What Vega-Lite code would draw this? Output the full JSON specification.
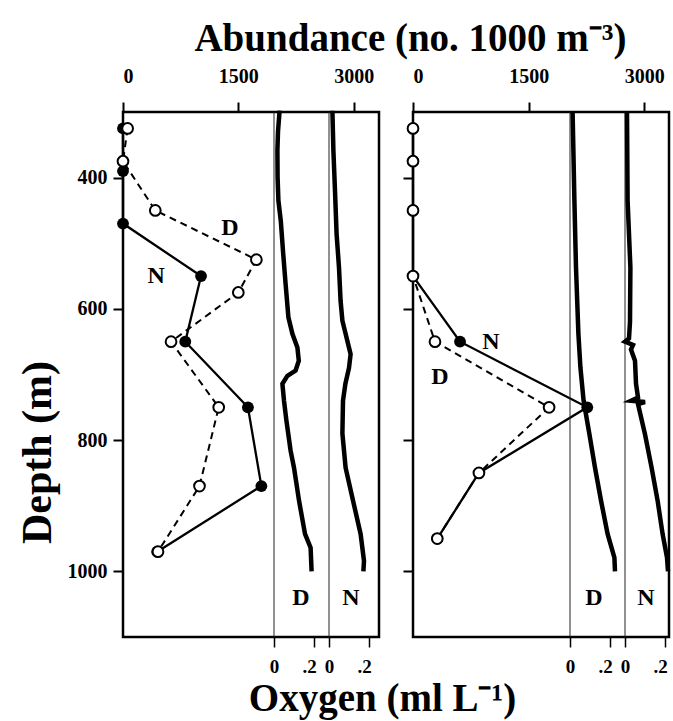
{
  "$schema": "https://vega.github.io/schema/vega-lite/v6.json",
  "background": "white",
  "padding": {"left": 14, "top": 19, "right": 2, "bottom": 5},
  "title": {"text": "Abundance (no. 1000 m⁻³)", "anchor": "middle", "dx": 64, "offset": 6, "fontSize": 39},
  "datasets": {
    "abund": [
      {"panel": "L", "time": "D", "depth": 325, "abundance": 60},
      {"panel": "L", "time": "D", "depth": 375, "abundance": 0},
      {"panel": "L", "time": "D", "depth": 450, "abundance": 420},
      {"panel": "L", "time": "D", "depth": 525, "abundance": 1735},
      {"panel": "L", "time": "D", "depth": 575, "abundance": 1500},
      {"panel": "L", "time": "D", "depth": 650, "abundance": 625},
      {"panel": "L", "time": "D", "depth": 750, "abundance": 1245},
      {"panel": "L", "time": "D", "depth": 870, "abundance": 995},
      {"panel": "L", "time": "D", "depth": 970, "abundance": 455},
      {"panel": "L", "time": "N", "depth": 325, "abundance": 0},
      {"panel": "L", "time": "N", "depth": 390, "abundance": 0},
      {"panel": "L", "time": "N", "depth": 470, "abundance": 0},
      {"panel": "L", "time": "N", "depth": 550, "abundance": 1015},
      {"panel": "L", "time": "N", "depth": 650, "abundance": 810},
      {"panel": "L", "time": "N", "depth": 750, "abundance": 1625},
      {"panel": "L", "time": "N", "depth": 870, "abundance": 1800},
      {"panel": "L", "time": "N", "depth": 970, "abundance": 445},
      {"panel": "R", "time": "D", "depth": 325, "abundance": 0},
      {"panel": "R", "time": "D", "depth": 375, "abundance": 0},
      {"panel": "R", "time": "D", "depth": 450, "abundance": 0},
      {"panel": "R", "time": "D", "depth": 550, "abundance": 0},
      {"panel": "R", "time": "D", "depth": 650, "abundance": 285},
      {"panel": "R", "time": "D", "depth": 750, "abundance": 1765},
      {"panel": "R", "time": "D", "depth": 850, "abundance": 855},
      {"panel": "R", "time": "D", "depth": 950, "abundance": 315},
      {"panel": "R", "time": "N", "depth": 325, "abundance": 0},
      {"panel": "R", "time": "N", "depth": 375, "abundance": 0},
      {"panel": "R", "time": "N", "depth": 450, "abundance": 0},
      {"panel": "R", "time": "N", "depth": 550, "abundance": 0},
      {"panel": "R", "time": "N", "depth": 650, "abundance": 610},
      {"panel": "R", "time": "N", "depth": 750, "abundance": 2260},
      {"panel": "R", "time": "N", "depth": 850, "abundance": 855},
      {"panel": "R", "time": "N", "depth": 950, "abundance": 315}
    ],
    "oxy": [
      {"panel": "L", "time": "D", "depth": 298, "oxygen": 0.028},
      {"panel": "L", "time": "D", "depth": 330, "oxygen": 0.02},
      {"panel": "L", "time": "D", "depth": 359, "oxygen": 0.017},
      {"panel": "L", "time": "D", "depth": 400, "oxygen": 0.018},
      {"panel": "L", "time": "D", "depth": 435, "oxygen": 0.022},
      {"panel": "L", "time": "D", "depth": 466, "oxygen": 0.034},
      {"panel": "L", "time": "D", "depth": 512, "oxygen": 0.045},
      {"panel": "L", "time": "D", "depth": 562, "oxygen": 0.058},
      {"panel": "L", "time": "D", "depth": 613, "oxygen": 0.072},
      {"panel": "L", "time": "D", "depth": 638, "oxygen": 0.092},
      {"panel": "L", "time": "D", "depth": 659, "oxygen": 0.117},
      {"panel": "L", "time": "D", "depth": 679, "oxygen": 0.124},
      {"panel": "L", "time": "D", "depth": 694, "oxygen": 0.108},
      {"panel": "L", "time": "D", "depth": 702, "oxygen": 0.067},
      {"panel": "L", "time": "D", "depth": 714, "oxygen": 0.042},
      {"panel": "L", "time": "D", "depth": 740, "oxygen": 0.05},
      {"panel": "L", "time": "D", "depth": 770, "oxygen": 0.062},
      {"panel": "L", "time": "D", "depth": 816, "oxygen": 0.083},
      {"panel": "L", "time": "D", "depth": 842, "oxygen": 0.1},
      {"panel": "L", "time": "D", "depth": 892, "oxygen": 0.125},
      {"panel": "L", "time": "D", "depth": 943, "oxygen": 0.155},
      {"panel": "L", "time": "D", "depth": 964, "oxygen": 0.183},
      {"panel": "L", "time": "D", "depth": 1000, "oxygen": 0.188},
      {"panel": "L", "time": "N", "depth": 298, "oxygen": 0.017},
      {"panel": "L", "time": "N", "depth": 359, "oxygen": 0.022},
      {"panel": "L", "time": "N", "depth": 420, "oxygen": 0.03},
      {"panel": "L", "time": "N", "depth": 486, "oxygen": 0.038},
      {"panel": "L", "time": "N", "depth": 537, "oxygen": 0.05},
      {"panel": "L", "time": "N", "depth": 588, "oxygen": 0.058},
      {"panel": "L", "time": "N", "depth": 618, "oxygen": 0.067},
      {"panel": "L", "time": "N", "depth": 638, "oxygen": 0.083},
      {"panel": "L", "time": "N", "depth": 669, "oxygen": 0.108},
      {"panel": "L", "time": "N", "depth": 690, "oxygen": 0.1},
      {"panel": "L", "time": "N", "depth": 714, "oxygen": 0.082},
      {"panel": "L", "time": "N", "depth": 740, "oxygen": 0.07},
      {"panel": "L", "time": "N", "depth": 790, "oxygen": 0.067},
      {"panel": "L", "time": "N", "depth": 842, "oxygen": 0.083},
      {"panel": "L", "time": "N", "depth": 892, "oxygen": 0.12},
      {"panel": "L", "time": "N", "depth": 943, "oxygen": 0.158},
      {"panel": "L", "time": "N", "depth": 984, "oxygen": 0.175},
      {"panel": "L", "time": "N", "depth": 1000, "oxygen": 0.172},
      {"panel": "R", "time": "D", "depth": 300, "oxygen": 0.013},
      {"panel": "R", "time": "D", "depth": 435, "oxygen": 0.022},
      {"panel": "R", "time": "D", "depth": 537, "oxygen": 0.03},
      {"panel": "R", "time": "D", "depth": 638, "oxygen": 0.042},
      {"panel": "R", "time": "D", "depth": 689, "oxygen": 0.052},
      {"panel": "R", "time": "D", "depth": 740, "oxygen": 0.068},
      {"panel": "R", "time": "D", "depth": 791, "oxygen": 0.097},
      {"panel": "R", "time": "D", "depth": 842, "oxygen": 0.125},
      {"panel": "R", "time": "D", "depth": 892, "oxygen": 0.155},
      {"panel": "R", "time": "D", "depth": 943, "oxygen": 0.188},
      {"panel": "R", "time": "D", "depth": 979, "oxygen": 0.222},
      {"panel": "R", "time": "D", "depth": 1000, "oxygen": 0.225},
      {"panel": "R", "time": "N", "depth": 300, "oxygen": 0.01},
      {"panel": "R", "time": "N", "depth": 435, "oxygen": 0.013},
      {"panel": "R", "time": "N", "depth": 537, "oxygen": 0.027},
      {"panel": "R", "time": "N", "depth": 620, "oxygen": 0.025},
      {"panel": "R", "time": "N", "depth": 645, "oxygen": 0.02},
      {"panel": "R", "time": "N", "depth": 650, "oxygen": 0.0},
      {"panel": "R", "time": "N", "depth": 655, "oxygen": 0.04},
      {"panel": "R", "time": "N", "depth": 662, "oxygen": 0.03},
      {"panel": "R", "time": "N", "depth": 679, "oxygen": 0.05},
      {"panel": "R", "time": "N", "depth": 714, "oxygen": 0.055},
      {"panel": "R", "time": "N", "depth": 735, "oxygen": 0.065},
      {"panel": "R", "time": "N", "depth": 740, "oxygen": 0.03},
      {"panel": "R", "time": "N", "depth": 742, "oxygen": 0.1},
      {"panel": "R", "time": "N", "depth": 745, "oxygen": 0.065},
      {"panel": "R", "time": "N", "depth": 791, "oxygen": 0.1},
      {"panel": "R", "time": "N", "depth": 842, "oxygen": 0.133},
      {"panel": "R", "time": "N", "depth": 892, "oxygen": 0.163},
      {"panel": "R", "time": "N", "depth": 943, "oxygen": 0.188},
      {"panel": "R", "time": "N", "depth": 979, "oxygen": 0.21},
      {"panel": "R", "time": "N", "depth": 1000, "oxygen": 0.215}
    ],
    "zero": [{"oxygen": 0}],
    "labels": [
      {"panel": "L", "sub": "A", "label": "D", "abundance": 1390, "depth": 476},
      {"panel": "L", "sub": "A", "label": "N", "abundance": 430, "depth": 550},
      {"panel": "R", "sub": "A", "label": "N", "abundance": 1010, "depth": 650},
      {"panel": "R", "sub": "A", "label": "D", "abundance": 350, "depth": 704},
      {"panel": "L", "sub": "D", "label": "D", "oxygen": 0.135, "depth": 1040},
      {"panel": "L", "sub": "N", "label": "N", "oxygen": 0.11, "depth": 1040},
      {"panel": "R", "sub": "D", "label": "D", "oxygen": 0.12, "depth": 1040},
      {"panel": "R", "sub": "N", "label": "N", "oxygen": 0.105, "depth": 1040}
    ]
  },
  "vconcat": [
    {
      "title": {"text": "Oxygen (ml L⁻¹)", "orient": "bottom", "anchor": "middle", "dx": 36, "offset": 3, "fontSize": 39},
      "spacing": 19,
      "hconcat": [
        {
          "width": 256,
          "height": 525,
          "resolve": {"scale": {"x": "independent"}, "axis": {"x": "independent"}},
          "layer": [
            {
              "encoding": {
                "x": {"field": "abundance", "type": "quantitative", "scale": {"domain": [0, 3330], "nice": false, "zero": false}, "axis": {"orient": "top", "values": [0, 1500, 3000], "format": "d", "title": null, "labelPadding": 16}},
                "y": {"field": "depth", "type": "quantitative", "scale": {"domain": [300, 1100], "reverse": true, "nice": false, "zero": false}, "axis": {"values": [400, 600, 800, 1000], "format": "d", "title": "Depth (m)", "titleX": -86, "titleY": 340, "titleAngle": -90, "titleAlign": "center", "titleBaseline": "middle", "titleFontSize": 42, "labelPadding": 6}}
              },
              "layer": [
                {"data": {"name": "abund"}, "transform": [{"filter": "datum.panel == 'L' && datum.time == 'N'"}], "mark": {"type": "line", "color": "black", "strokeWidth": 2.3}, "encoding": {"order": {"field": "depth", "type": "quantitative"}}},
                {"data": {"name": "abund"}, "transform": [{"filter": "datum.panel == 'L' && datum.time == 'D'"}], "mark": {"type": "line", "color": "black", "strokeWidth": 2, "strokeDash": [7, 5]}, "encoding": {"order": {"field": "depth", "type": "quantitative"}}},
                {"data": {"name": "abund"}, "transform": [{"filter": "datum.panel == 'L' && datum.time == 'N'"}], "mark": {"type": "point", "shape": "circle", "filled": true, "color": "black", "size": 140, "opacity": 1}},
                {"data": {"name": "abund"}, "transform": [{"filter": "datum.panel == 'L' && datum.time == 'D'"}], "mark": {"type": "point", "shape": "circle", "fill": "white", "stroke": "black", "strokeWidth": 2, "size": 115, "opacity": 1, "fillOpacity": 1}},
                {"data": {"name": "labels"}, "transform": [{"filter": "datum.panel == 'L' && datum.sub == 'A'"}], "mark": {"type": "text", "fontSize": 24, "fontWeight": "bold", "font": "Liberation Serif", "color": "black"}, "encoding": {"text": {"field": "label"}}}
              ]
            },
            {
              "encoding": {
                "x": {"field": "oxygen", "type": "quantitative", "scale": {"domain": [-0.755, 0.525], "nice": false, "zero": false}, "axis": {"orient": "bottom", "values": [0, 0.2], "labelExpr": "datum.value == 0 ? '0' : '.2'", "labelOffset": {"expr": "datum.value > 0 ? -5 : 0"}, "labelFontSize": 19, "title": null, "tickWidth": 1.5, "labelPadding": 10}},
                "y": {"field": "depth", "type": "quantitative", "scale": {"domain": [300, 1100], "reverse": true, "nice": false, "zero": false}, "axis": {"values": [400, 600, 800, 1000], "format": "d", "title": "Depth (m)", "titleX": -86, "titleY": 340, "titleAngle": -90, "titleAlign": "center", "titleBaseline": "middle", "titleFontSize": 42, "labelPadding": 6}}
              },
              "layer": [
                {"data": {"name": "zero"}, "mark": {"type": "rule", "color": "#222", "strokeWidth": 1}, "encoding": {"y": null}},
                {"data": {"name": "oxy"}, "transform": [{"filter": "datum.panel == 'L' && datum.time == 'D'"}], "mark": {"type": "line", "color": "black", "strokeWidth": 4.5}, "encoding": {"order": {"field": "depth", "type": "quantitative"}}},
                {"data": {"name": "labels"}, "transform": [{"filter": "datum.panel == 'L' && datum.sub == 'D'"}], "mark": {"type": "text", "fontSize": 24, "fontWeight": "bold", "font": "Liberation Serif", "color": "black"}, "encoding": {"text": {"field": "label"}}}
              ]
            },
            {
              "encoding": {
                "x": {"field": "oxygen", "type": "quantitative", "scale": {"domain": [-1.03, 0.25], "nice": false, "zero": false}, "axis": {"orient": "bottom", "values": [0, 0.2], "labelExpr": "datum.value == 0 ? '0' : '.2'", "labelOffset": {"expr": "datum.value > 0 ? -5 : 0"}, "labelFontSize": 19, "title": null, "tickWidth": 1.5, "labelPadding": 10}},
                "y": {"field": "depth", "type": "quantitative", "scale": {"domain": [300, 1100], "reverse": true, "nice": false, "zero": false}, "axis": {"values": [400, 600, 800, 1000], "format": "d", "title": "Depth (m)", "titleX": -86, "titleY": 340, "titleAngle": -90, "titleAlign": "center", "titleBaseline": "middle", "titleFontSize": 42, "labelPadding": 6}}
              },
              "layer": [
                {"data": {"name": "zero"}, "mark": {"type": "rule", "color": "#222", "strokeWidth": 1}, "encoding": {"y": null}},
                {"data": {"name": "oxy"}, "transform": [{"filter": "datum.panel == 'L' && datum.time == 'N'"}], "mark": {"type": "line", "color": "black", "strokeWidth": 4.5}, "encoding": {"order": {"field": "depth", "type": "quantitative"}}},
                {"data": {"name": "labels"}, "transform": [{"filter": "datum.panel == 'L' && datum.sub == 'N'"}], "mark": {"type": "text", "fontSize": 24, "fontWeight": "bold", "font": "Liberation Serif", "color": "black"}, "encoding": {"text": {"field": "label"}}}
              ]
            }
          ]
        },
        {
          "width": 256,
          "height": 525,
          "resolve": {"scale": {"x": "independent"}, "axis": {"x": "independent"}},
          "layer": [
            {
              "encoding": {
                "x": {"field": "abundance", "type": "quantitative", "scale": {"domain": [0, 3320], "nice": false, "zero": false}, "axis": {"orient": "top", "values": [0, 1500, 3000], "format": "d", "title": null, "labelPadding": 16}},
                "y": {"field": "depth", "type": "quantitative", "scale": {"domain": [300, 1100], "reverse": true, "nice": false, "zero": false}, "axis": {"values": [400, 600, 800, 1000], "title": null, "labels": false}}
              },
              "layer": [
                {"data": {"name": "abund"}, "transform": [{"filter": "datum.panel == 'R' && datum.time == 'N'"}], "mark": {"type": "line", "color": "black", "strokeWidth": 2.3}, "encoding": {"order": {"field": "depth", "type": "quantitative"}}},
                {"data": {"name": "abund"}, "transform": [{"filter": "datum.panel == 'R' && datum.time == 'D'"}], "mark": {"type": "line", "color": "black", "strokeWidth": 2, "strokeDash": [7, 5]}, "encoding": {"order": {"field": "depth", "type": "quantitative"}}},
                {"data": {"name": "abund"}, "transform": [{"filter": "datum.panel == 'R' && datum.time == 'N'"}], "mark": {"type": "point", "shape": "circle", "filled": true, "color": "black", "size": 140, "opacity": 1}},
                {"data": {"name": "abund"}, "transform": [{"filter": "datum.panel == 'R' && datum.time == 'D'"}], "mark": {"type": "point", "shape": "circle", "fill": "white", "stroke": "black", "strokeWidth": 2, "size": 115, "opacity": 1, "fillOpacity": 1}},
                {"data": {"name": "labels"}, "transform": [{"filter": "datum.panel == 'R' && datum.sub == 'A'"}], "mark": {"type": "text", "fontSize": 24, "fontWeight": "bold", "font": "Liberation Serif", "color": "black"}, "encoding": {"text": {"field": "label"}}}
              ]
            },
            {
              "encoding": {
                "x": {"field": "oxygen", "type": "quantitative", "scale": {"domain": [-0.785, 0.495], "nice": false, "zero": false}, "axis": {"orient": "bottom", "values": [0, 0.2], "labelExpr": "datum.value == 0 ? '0' : '.2'", "labelOffset": {"expr": "datum.value > 0 ? -5 : 0"}, "labelFontSize": 19, "title": null, "tickWidth": 1.5, "labelPadding": 10}},
                "y": {"field": "depth", "type": "quantitative", "scale": {"domain": [300, 1100], "reverse": true, "nice": false, "zero": false}, "axis": {"values": [400, 600, 800, 1000], "title": null, "labels": false}}
              },
              "layer": [
                {"data": {"name": "zero"}, "mark": {"type": "rule", "color": "#222", "strokeWidth": 1}, "encoding": {"y": null}},
                {"data": {"name": "oxy"}, "transform": [{"filter": "datum.panel == 'R' && datum.time == 'D'"}], "mark": {"type": "line", "color": "black", "strokeWidth": 4.5}, "encoding": {"order": {"field": "depth", "type": "quantitative"}}},
                {"data": {"name": "labels"}, "transform": [{"filter": "datum.panel == 'R' && datum.sub == 'D'"}], "mark": {"type": "text", "fontSize": 24, "fontWeight": "bold", "font": "Liberation Serif", "color": "black"}, "encoding": {"text": {"field": "label"}}}
              ]
            },
            {
              "encoding": {
                "x": {"field": "oxygen", "type": "quantitative", "scale": {"domain": [-1.06, 0.22], "nice": false, "zero": false}, "axis": {"orient": "bottom", "values": [0, 0.2], "labelExpr": "datum.value == 0 ? '0' : '.2'", "labelOffset": {"expr": "datum.value > 0 ? -5 : 0"}, "labelFontSize": 19, "title": null, "tickWidth": 1.5, "labelPadding": 10}},
                "y": {"field": "depth", "type": "quantitative", "scale": {"domain": [300, 1100], "reverse": true, "nice": false, "zero": false}, "axis": {"values": [400, 600, 800, 1000], "title": null, "labels": false}}
              },
              "layer": [
                {"data": {"name": "zero"}, "mark": {"type": "rule", "color": "#222", "strokeWidth": 1}, "encoding": {"y": null}},
                {"data": {"name": "oxy"}, "transform": [{"filter": "datum.panel == 'R' && datum.time == 'N'"}], "mark": {"type": "line", "color": "black", "strokeWidth": 4.5}, "encoding": {"order": {"field": "depth", "type": "quantitative"}}},
                {"data": {"name": "labels"}, "transform": [{"filter": "datum.panel == 'R' && datum.sub == 'N'"}], "mark": {"type": "text", "fontSize": 24, "fontWeight": "bold", "font": "Liberation Serif", "color": "black"}, "encoding": {"text": {"field": "label"}}}
              ]
            }
          ]
        }
      ]
    }
  ],
  "config": {
    "font": "Liberation Serif",
    "view": {"stroke": "black", "strokeWidth": 2.5},
    "title": {"font": "Liberation Serif", "fontWeight": "bold", "fontSize": 38, "color": "black"},
    "axis": {"labelFont": "Liberation Serif", "labelFontWeight": "bold", "labelFontSize": 20, "labelColor": "black", "tickColor": "black", "tickWidth": 2, "tickSize": 10, "domain": false, "grid": false, "titleFont": "Liberation Serif", "titleFontWeight": "bold", "titleColor": "black"}
  }
}
